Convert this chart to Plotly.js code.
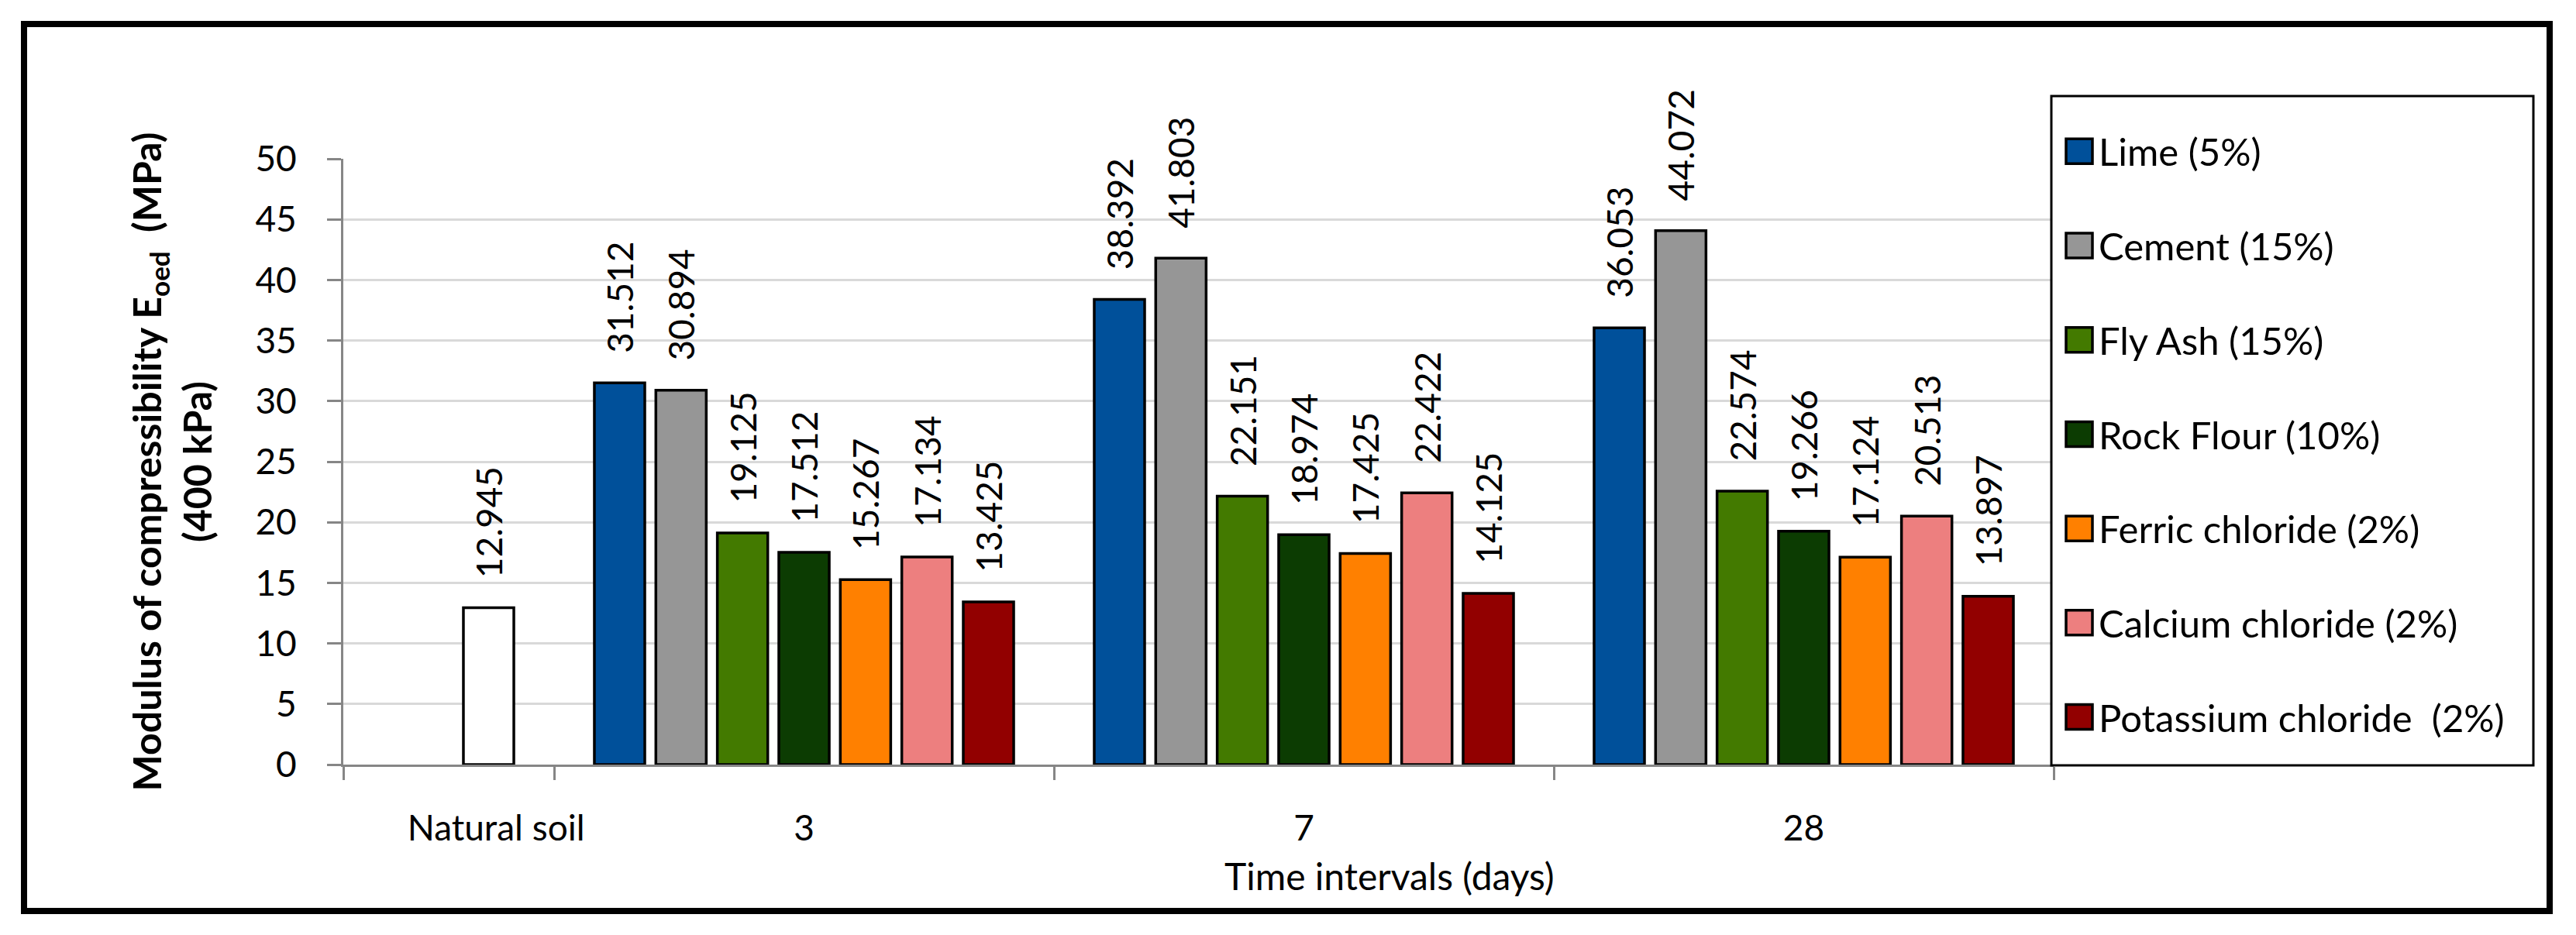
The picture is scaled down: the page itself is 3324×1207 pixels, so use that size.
<!DOCTYPE html>
<html>
<head>
<meta charset="utf-8">
<script src="https://cdn.plot.ly/plotly-3.0.1.min.js"></script>
<style>
  html, body { margin: 0; padding: 0; background: #ffffff; }
  #chart { width: 3324px; height: 1207px; }
</style>
</head>
<body>
<div id="chart"></div>
<script>
// ---------------- DATA ----------------
const categories = ['Natural soil', '3', '7', '28'];
const timeIntervals = ['3', '7', '28'];
const naturalSoilLabel = 'Natural soil';
const naturalSoil = [12.945];

const lime      = [31.512, 38.392, 36.053];
const cement    = [30.894, 41.803, 44.072];
const flyAsh    = [19.125, 22.151, 22.574];
const rockFlour = [17.512, 18.974, 19.266];
const ferric    = [15.267, 17.425, 17.124];
const calcium   = [17.134, 22.422, 20.513];
const potassium = [13.425, 14.125, 13.897];

const seriesNames = ['Lime (5%)', 'Cement (15%)', 'Fly Ash (15%)', 'Rock Flour (10%)',
                     'Ferric chloride (2%)', 'Calcium chloride (2%)', 'Potassium chloride\u00a0 (2%)'];
const seriesValues = [lime, cement, flyAsh, rockFlour, ferric, calcium, potassium];

const yTitle = 'Modulus of compressibility E<sub>oed</sub>\u00a0\u00a0(MPa)<br>(400 kPa)';
const xTitle = 'Time intervals (days)';

// ---------------- STYLE ----------------
const colors = ['#00509A', '#969696', '#437A00', '#0C3C02', '#FF8000', '#ED7F7F', '#920000'];
const FONT = 'Lato, "Open Sans", sans-serif';
const AXIS_GRAY = '#868686';
const W = 3324, H = 1207;
const PL = 443, PR = 2650, PT = 205, PB = 987;   // plot area in px
const fx = px => (px - PL) / (PR - PL);
const fy = py => (PB - py) / (PB - PT);
const xRange = [0.0783, 3.5];
const naturalLabelShift = 0.384;
const NB = '\u00a0\u00a0\u00a0';

const catIndex = c => categories.indexOf(c);
const xPos = timeIntervals.map(catIndex);

const traces = [];
seriesValues.forEach((vals, i) => {
  traces.push({
    type: 'bar',
    name: seriesNames[i],
    x: xPos,
    y: vals,
    offsetgroup: String(i),
    legendgroup: 'g' + i,
    marker: { color: colors[i], line: { color: '#000000', width: 3.5 } },
    text: vals.map(v => NB + v.toFixed(3)),
    textposition: 'outside',
    textangle: -90,
    constraintext: 'none',
    cliponaxis: false,
    textfont: { family: FONT, size: 46, color: '#000000' },
    hoverinfo: 'skip'
  });
});
// natural soil bar shares the last slot position inside its category
traces.push({
  type: 'bar',
  name: naturalSoilLabel,
  x: [catIndex(naturalSoilLabel)],
  y: naturalSoil,
  offsetgroup: String(seriesValues.length - 1),
  legendgroup: 'natural',
  showlegend: false,
  marker: { color: '#FFFFFF', line: { color: '#000000', width: 3.5 } },
  text: naturalSoil.map(v => NB + v.toFixed(3)),
  textposition: 'outside',
  textangle: -90,
  constraintext: 'none',
  cliponaxis: false,
  textfont: { family: FONT, size: 46, color: '#000000' },
  hoverinfo: 'skip'
});

const tickVals = categories.map((c, i) => i === 0 ? i + naturalLabelShift : i);
const boundaries = [xRange[0]].concat(timeIntervals.map(t => catIndex(t) - 0.5), [xRange[1]]);

const layout = {
  width: W, height: H,
  margin: { l: PL, r: W - PR, t: PT, b: H - PB, pad: 0 },
  paper_bgcolor: '#FFFFFF',
  plot_bgcolor: '#FFFFFF',
  barmode: 'group',
  bargap: 0.139,
  bargroupgap: 0.18,
  showlegend: true,
  font: { family: FONT, color: '#000000' },
  xaxis: {
    type: 'linear',
    range: xRange,
    tickmode: 'array',
    tickvals: tickVals,
    ticktext: categories,
    ticks: '',
    ticklabelstandoff: 40,
    tickfont: { family: FONT, size: 46, color: '#000000' },
    showline: true, linecolor: AXIS_GRAY, linewidth: 3,
    showgrid: false, zeroline: false,
    minor: { tickmode: 'array', tickvals: boundaries, ticks: 'outside', ticklen: 17,
             tickwidth: 3, tickcolor: AXIS_GRAY, showgrid: false },
    fixedrange: true
  },
  yaxis: {
    range: [0, 50],
    tickmode: 'linear', tick0: 0, dtick: 5,
    ticks: 'outside', ticklen: 18, tickwidth: 3, tickcolor: AXIS_GRAY,
    ticklabelstandoff: 30,
    tickfont: { family: FONT, size: 46, color: '#000000' },
    showline: true, linecolor: AXIS_GRAY, linewidth: 3,
    showgrid: true, gridcolor: '#D9D9D9', gridwidth: 3,
    zeroline: false,
    title: { text: yTitle, standoff: 40, font: { family: FONT, size: 50, weight: 700, color: '#000000' } },
    fixedrange: true
  },
  legend: {
    x: fx(2658), xanchor: 'left',
    y: fy(157), yanchor: 'top',
    bgcolor: 'rgba(0,0,0,0)',
    borderwidth: 0,
    font: { family: FONT, size: 49, color: '#000000' },
    tracegroupgap: 55,
    itemwidth: 40,
    traceorder: 'grouped',
    maxheight: 1150
  },
  annotations: [{
    text: xTitle, xref: 'paper', yref: 'paper',
    x: fx(1793), y: fy(1130), xanchor: 'center', yanchor: 'middle',
    showarrow: false, font: { family: FONT, size: 48, color: '#000000' }
  }],
  shapes: [
    // legend frame
    { type: 'rect', xref: 'paper', yref: 'paper', layer: 'above',
      x0: fx(2647), x1: fx(3269), y0: fy(988), y1: fy(124),
      line: { color: '#000000', width: 3 }, fillcolor: '#FFFFFF' },
    // outer chart frame
    { type: 'rect', xref: 'paper', yref: 'paper', layer: 'above',
      x0: fx(31), x1: fx(3290), y0: fy(1176), y1: fy(31),
      line: { color: '#000000', width: 8 }, fillcolor: 'rgba(0,0,0,0)' }
  ]
};

Plotly.newPlot('chart', traces, layout, { displayModeBar: false, staticPlot: true }).then(() => {
  document.querySelectorAll('.legend .legendpoints path').forEach(p => {
    p.setAttribute('d', 'M17,16H-17V-16H17Z');
  });
});
</script>
</body>
</html>
